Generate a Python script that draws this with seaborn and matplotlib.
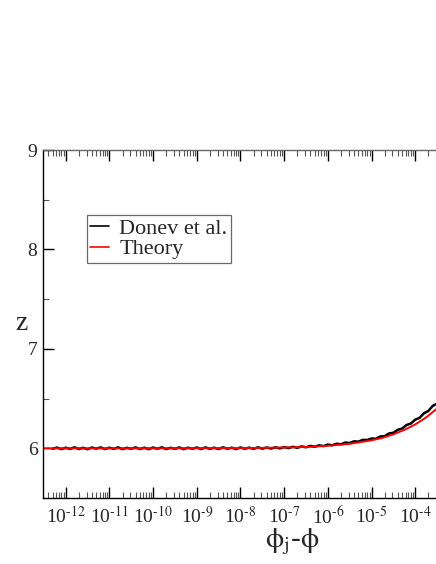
import numpy as np
import pandas as pd
import seaborn as sns
import matplotlib.pyplot as plt
from matplotlib.ticker import LogLocator, MultipleLocator, FuncFormatter, FixedLocator

# data (x given as log10 of phi_j - phi)
donev_exp = [-12.3, -12.2, -12.1, -12.0, -11.9, -11.8, -11.7, -11.6, -11.5, -11.4,
             -11.3, -11.2, -11.1, -11.0, -10.9, -10.8, -10.7, -10.6, -10.5, -10.4,
             -10.3, -10.2, -10.1, -10.0, -9.9, -9.8, -9.7, -9.6, -9.5, -9.4,
             -9.3, -9.2, -9.1, -9.0, -8.9, -8.8, -8.7, -8.6, -8.5, -8.4,
             -8.3, -8.2, -8.1, -8.0, -7.9, -7.8, -7.7, -7.6, -7.5, -7.4,
             -7.3, -7.2, -7.1, -7.0, -6.9, -6.8, -6.7, -6.6, -6.5, -6.4,
             -6.3, -6.2, -6.1, -6.0, -5.9, -5.8, -5.7, -5.6, -5.5, -5.4,
             -5.3, -5.2, -5.1, -5.0, -4.9, -4.8, -4.7, -4.6, -4.5, -4.4,
             -4.3, -4.2, -4.1, -4.0, -3.9, -3.8, -3.7, -3.6, -3.5, -3.4]
donev_z = [5.994, 6.008, 5.991, 6.006, 5.993, 6.010, 5.992, 6.005, 5.990, 6.008,
           5.996, 6.009, 5.992, 6.006, 5.994, 6.010, 5.991, 6.005, 5.995, 6.009,
           5.992, 6.006, 5.991, 6.008, 5.995, 6.010, 5.992, 6.005, 5.994, 6.009,
           5.991, 6.006, 5.995, 6.008, 5.992, 6.009, 5.994, 6.006, 5.992, 6.010,
           5.995, 6.006, 5.992, 6.009, 5.995, 6.007, 5.994, 6.010, 5.996, 6.008,
           5.997, 6.010, 5.999, 6.012, 6.002, 6.015, 6.005, 6.019, 6.010, 6.024,
           6.015, 6.030, 6.022, 6.037, 6.030, 6.046, 6.040, 6.058, 6.053, 6.070,
           6.067, 6.085, 6.083, 6.098, 6.096, 6.118, 6.122, 6.149, 6.156, 6.186,
           6.198, 6.234, 6.249, 6.288, 6.306, 6.352, 6.375, 6.426, 6.450, 6.507]

theory_exp = [-12.6, -12.0, -11.0, -10.0, -9.0, -8.0, -7.5, -7.0, -6.5, -6.0,
              -5.5, -5.0, -4.75, -4.5, -4.25, -4.0, -3.75, -3.5, -3.4]
theory_z = [6.000, 6.000, 6.000, 6.000, 6.001, 6.002, 6.004, 6.008, 6.013, 6.025,
            6.045, 6.080, 6.105, 6.140, 6.185, 6.240, 6.310, 6.400, 6.440]

# labelled decades on the x axis
tick_exp = [-12, -11, -10, -9, -8, -7, -6, -5, -4]

df = pd.concat([
    pd.DataFrame({"x": 10.0 ** np.array(donev_exp), "z": donev_z, "src": "Donev et al."}),
    pd.DataFrame({"x": 10.0 ** np.array(theory_exp), "z": theory_z, "src": "Theory"}),
])

sns.set_style("ticks")
plt.rcParams["font.family"] = ["Liberation Serif", "DejaVu Serif"]
plt.rcParams["mathtext.fontset"] = "stix"

fig = plt.figure(figsize=(4.36, 5.64), dpi=100)
ax = fig.add_axes([43 / 436, 66 / 564, 413.7 / 436, 348 / 564])

sns.lineplot(data=df, x="x", y="z", hue="src", sort=False,
             palette={"Donev et al.": "black", "Theory": "red"},
             linewidth=1.4, ax=ax, legend=True)
ax.lines[0].set_linewidth(1.8)  # the simulation curve is a bit heavier

ax.set_xscale("log")
ax.set_xlim(10 ** -12.52, 10 ** -3.05)
ax.set_ylim(5.5, 9)
ax.set_yticks([6, 7, 8, 9])
ax.yaxis.set_minor_locator(MultipleLocator(0.5))
ax.xaxis.set_major_locator(FixedLocator([10.0 ** e for e in tick_exp]))
ax.xaxis.set_minor_locator(LogLocator(base=10, subs=np.arange(2, 10), numticks=20))
ax.xaxis.set_major_formatter(
    FuncFormatter(lambda v, p: r"$\mathregular{10^{\text{-%d}}}$" % round(-np.log10(v))))

ax.tick_params(axis="both", which="major", direction="in", length=8, width=1,
               labelsize=14, top=True, right=False, color="black")
ax.tick_params(axis="x", which="major", pad=6)
ax.tick_params(axis="y", which="major", pad=4)
ax.tick_params(axis="both", which="minor", direction="in", length=4, width=0.8,
               top=True, right=False, color="#555555")
for s in ax.spines.values():
    s.set_linewidth(1.0)
    s.set_color("black")
ax.spines["top"].set_color("#666666")

ax.set_xlabel(r"$\mathrm{\phi_j}$-$\mathrm{\phi}$", fontsize=21)
ax.xaxis.set_label_coords((292 - 43) / 413.7, -(526 - 498) / 348, transform=ax.transAxes)
ax.xaxis.label.set_va("top")
ax.set_ylabel("z", fontsize=20, rotation=0, va="center", ha="center")
ax.yaxis.set_label_coords(-22 / 413.7, 0.5)

leg = ax.legend(loc="upper left", bbox_to_anchor=(87 / 436, 1 - 215 / 564),
                bbox_transform=fig.transFigure, borderaxespad=0, fontsize=16,
                frameon=True, fancybox=False, handlelength=0.85, handletextpad=0.45,
                labelspacing=0.0, borderpad=0.15, title=None)
leg.get_frame().set_edgecolor("#444444")
leg.get_frame().set_linewidth(0.9)
for h in leg.get_lines():
    h.set_linewidth(1.2)

fig.savefig("out.png", dpi=100)
